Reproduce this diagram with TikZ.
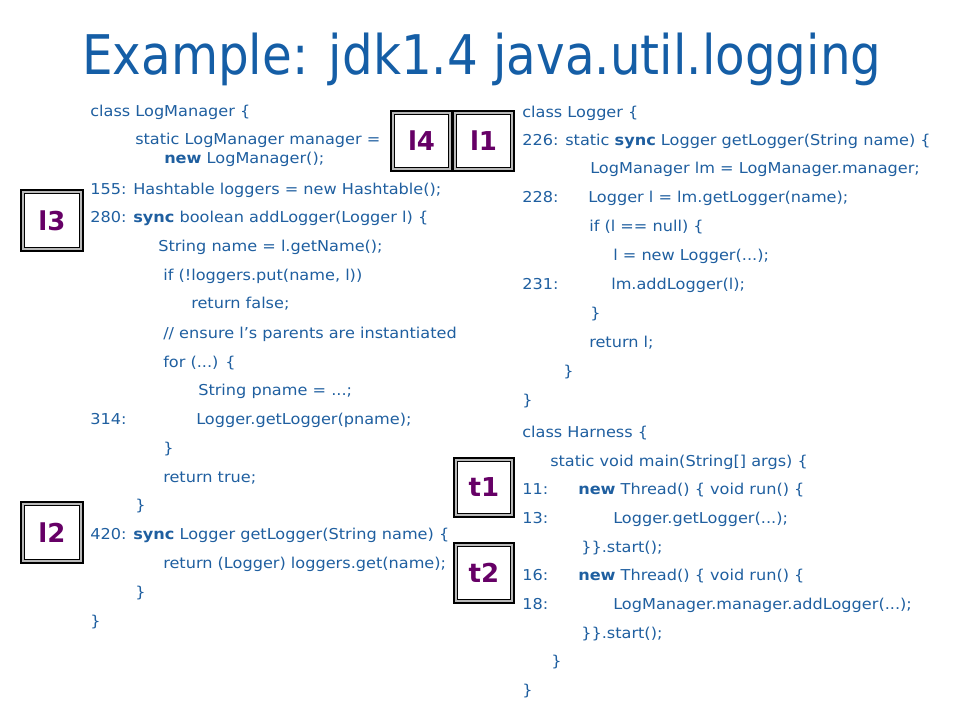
\documentclass[tikz,border=0pt]{standalone}
\usepackage{fontspec}
\setmainfont{DejaVu Sans}[FakeStretch=1.075]
\newfontfamily\titlefont{DejaVu Sans}[FakeStretch=0.885]
\newfontfamily\labfont{DejaVu Sans}
\usetikzlibrary{calc}
\definecolor{titleblue}{RGB}{21,94,166}
\definecolor{codeblue}{RGB}{31,95,160}
\definecolor{labpurple}{RGB}{102,0,102}
\definecolor{framegray}{RGB}{185,185,185}
\tikzset{
  code/.style={anchor=base west, inner sep=0pt, text=codeblue, font=\fontsize{11.25pt}{13pt}\selectfont},
  lab/.style={inner sep=0pt, text=labpurple, font=\fontsize{19.5pt}{22pt}\labfont\bfseries},
}
\newcommand{\dbox}[4]{%
  \fill[framegray,draw=black,line width=0.8pt] (#1,#2) rectangle (#3,#4);
  \fill[white,draw=black,line width=0.7pt] ($(#1,#2)+(3.6,3.6)$) rectangle ($(#3,#4)+(-3.6,-3.6)$);
}
\begin{document}
\begin{tikzpicture}[x=0.75pt,y=-0.75pt]
\path[fill=white,use as bounding box] (0,0) rectangle (960,720);
\node[anchor=base west,inner sep=0pt,text=titleblue,font=\fontsize{41pt}{48pt}\titlefont] (title) at (82,75) {Example: jdk1.4 java.util.logging};
% left column
\node[code] (a1) at (90,117) {class LogManager \{};
\node[code] (a2) at (135,145) {static LogManager manager =};
\node[code] (a3) at (164,164) {\textbf{new} LogManager();};
\node[code] (a4) at (90,195) {155: Hashtable loggers = new Hashtable();};
\node[code] (a5) at (90,223) {280: \textbf{sync} boolean addLogger(Logger l) \{};
\node[code] (a6) at (158,252) {String name = l.getName();};
\node[code] (a7) at (163,281) {if (!loggers.put(name, l))};
\node[code] (a8) at (191,309) {return false;};
\node[code] (a9) at (163,338) {// ensure l’s parents are instantiated};
\node[code] (a10) at (163,367) {for (...) \{};
\node[code] (a11) at (198,395) {String pname = ...;};
\node[code] (a12) at (90,424) {314:};
\node[code] (a12b) at (196,424) {Logger.getLogger(pname);};
\node[code] (a13) at (163,453) {\}};
\node[code] (a14) at (163,482) {return true;};
\node[code] (a15) at (135,510) {\}};
\node[code] (a16) at (90,539) {420: \textbf{sync} Logger getLogger(String name) \{};
\node[code] (a17) at (163,568) {return (Logger) loggers.get(name);};
\node[code] (a18) at (135,597) {\}};
\node[code] (a19) at (90,626) {\}};
% right column
\node[code] (b1) at (522,118) {class Logger \{};
\node[code] (b2) at (522,146) {226: static \textbf{sync} Logger getLogger(String name) \{};
\node[code] (b3) at (590,174) {LogManager lm = LogManager.manager;};
\node[code] (b4) at (522,203) {228:};
\node[code] (b4b) at (588,203) {Logger l = lm.getLogger(name);};
\node[code] (b5) at (589,232) {if (l == null) \{};
\node[code] (b6) at (613,261) {l = new Logger(...);};
\node[code] (b7) at (522,290) {231:};
\node[code] (b7b) at (611,290) {lm.addLogger(l);};
\node[code] (b8) at (590,318) {\}};
\node[code] (b9) at (589,347) {return l;};
\node[code] (b10) at (563,376) {\}};
\node[code] (b11) at (522,405) {\}};
\node[code] (c1) at (522,437) {class Harness \{};
\node[code] (c2) at (550,466) {static void main(String[] args) \{};
\node[code] (c3) at (522,494) {11:};
\node[code] (c3b) at (578,494) {\textbf{new} Thread() \{ void run() \{};
\node[code] (c4) at (522,523) {13:};
\node[code] (c4b) at (613,523) {Logger.getLogger(...);};
\node[code] (c5) at (581,552) {\}\}.start();};
\node[code] (c6) at (522,580) {16:};
\node[code] (c6b) at (578,580) {\textbf{new} Thread() \{ void run() \{};
\node[code] (c7) at (522,609) {18:};
\node[code] (c7b) at (613,609) {LogManager.manager.addLogger(...);};
\node[code] (c8) at (581,638) {\}\}.start();};
\node[code] (c9) at (551,666) {\}};
\node[code] (c10) at (522,695) {\}};
% label boxes
\dbox{391}{111}{452}{171}
\node[lab] (l4) at (421.5,141) {l4};
\dbox{453}{111}{514}{171}
\node[lab] (l1) at (483.5,141) {l1};
\dbox{21}{190}{83}{251}
\node[lab] (l3) at (52,220.5) {l3};
\dbox{21}{502}{83}{563}
\node[lab] (l2) at (52,532.5) {l2};
\dbox{454}{458}{514}{517}
\node[lab] (t1) at (484,487.5) {t1};
\dbox{454}{543}{514}{603}
\node[lab] (t2) at (484,573) {t2};
\end{tikzpicture}
\end{document}
